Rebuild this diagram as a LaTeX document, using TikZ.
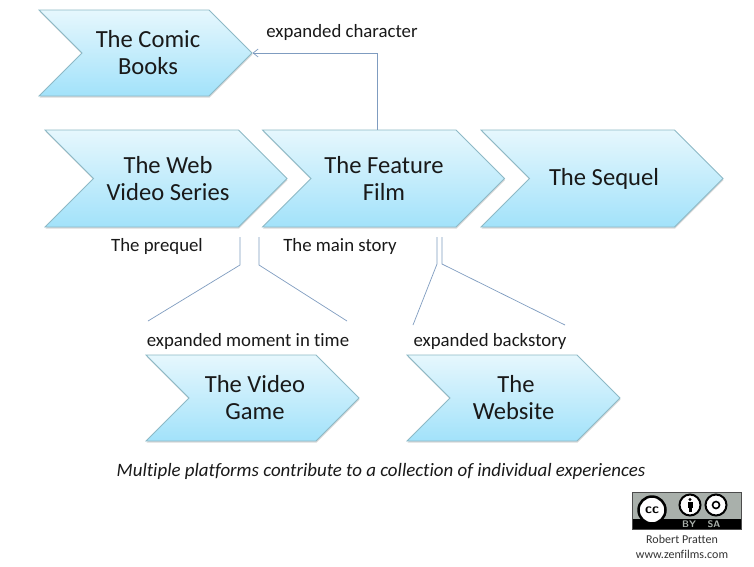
\documentclass[tikz,border=0pt]{standalone}
\usepackage{fontspec}
\setmainfont[Ligatures=NoCommon]{Carlito}
\usetikzlibrary{shapes.symbols,shadows,arrows.meta}
\definecolor{edgeblue}{HTML}{8DB9C6}
\definecolor{lineblue}{HTML}{7F9CC0}
\definecolor{topblue}{HTML}{E6F7FD}
\definecolor{botblue}{HTML}{A2E2FA}
\definecolor{ccgray}{HTML}{A9B0AB}
\tikzset{
  chev/.style={signal, signal to=east, signal from=west, signal pointer angle=90, draw=edgeblue, line width=0.8pt,
    top color=topblue, bottom color=botblue, align=center, inner sep=0pt, font=\fontsize{24.6}{27}\selectfont, text=black!90,
    drop shadow={shadow xshift=0.5pt, shadow yshift=-1.5pt, opacity=0.3}},
  bigchev/.style={chev, minimum width=242pt, minimum height=97pt},
  smallchev/.style={chev, minimum width=213pt, minimum height=86pt},
  lab/.style={font=\fontsize{18.8}{22}\selectfont, text=black!90},
  conn/.style={draw=lineblue, line width=0.7pt},
  cctxt/.style={font=\sffamily\bfseries\fontsize{9.5}{9.5}\selectfont, text=ccgray}
}
\begin{document}
\begin{tikzpicture}[x=1pt,y=-1pt]
\useasboundingbox (0,0) rectangle (754,566);
\fill[white] (0,0) rectangle (754,566);
% top row
\node[smallchev] (comic) at (145.5,53) {\hspace*{5pt}The Comic\\\hspace*{5pt}Books};
\node[bigchev] (web) at (166,178.5) {\hspace*{4pt}The Web\\\hspace*{4pt}Video Series};
\node[bigchev] (film) at (383.5,178.5) {\hspace*{1pt}The Feature\\\hspace*{1pt}Film};
\node[bigchev] (sequel) at (602,178.5) {\raisebox{-2pt}{\hspace*{4pt}The Sequel}};
% bottom row
\node[smallchev] (game) at (252.5,398) {\hspace*{5pt}The Video\\\hspace*{5pt}Game};
\node[smallchev] (site) at (513.5,398) {\hspace*{5pt}The\\Website};
% labels
\node[lab] (charlab) at (342,32) {expanded character};
\node[lab] (prequel) at (157,246) {The prequel};
\node[lab] (mainlab) at (340,246) {The main story};
\node[lab] (momentlab) at (248,341) {expanded moment in time};
\node[lab] (backlab) at (490,341) {expanded backstory};
\node[font=\itshape\fontsize{18.9}{22}\selectfont, text=black!90] (caption) at (381,471) {Multiple platforms contribute to a collection of individual experiences};
% connectors
\draw[conn,-{Straight Barb[length=5pt,width=8pt]}] ([xshift=-6.5pt]film.north) |- (comic.east);
\coordinate (gameleft) at (148,321);
\coordinate (gameright) at (347,321);
\coordinate (siteleft) at (413,325);
\coordinate (siteright) at (565,325);
\coordinate (kneea) at (240,265);
\coordinate (kneeb) at (259,265);
\coordinate (kneec) at (437,264);
\coordinate (kneed) at (442,264);
\draw[conn] (240,237) -- (kneea) -- (gameleft);
\draw[conn] (259,237) -- (kneeb) -- (gameright);
\draw[conn] (437,237) -- (kneec) -- (siteleft);
\draw[conn] (442,237) -- (kneed) -- (siteright);
% licence badge
\fill[ccgray] (632,492) rectangle (741,520);
\fill[black] (632,519) rectangle (741,529);
\draw[black!70,line width=0.5pt] (632,492) rectangle (741,529);
\node[circle, fill=white, draw=black, line width=2.5pt, minimum size=27pt, inner sep=0pt, font=\sffamily\bfseries\fontsize{14}{14}\selectfont] (ccmark) at (652,510) {cc};
\node[circle, fill=white, draw=black, line width=2pt, minimum size=21pt, inner sep=0pt] (bymark) at (690,505) {};
\node[circle, fill=white, draw=black, line width=2pt, minimum size=21pt, inner sep=0pt] (samark) at (716,505) {};
\fill[black] (690,499.5) circle (1.6pt);
\fill[black] (687.5,502) rectangle (692.5,508);
\fill[black] (688.5,508) rectangle (691.5,512);
\draw[black,line width=1.6pt] (716,505) circle (3.5pt);
\node[cctxt] (bytxt) at (689,524) {BY};
\node[cctxt] (satxt) at (714,524) {SA};
\node[font=\fontsize{12}{15}\selectfont, align=center, text=black!80] (credit) at (682,547) {Robert Pratten\\www.zenfilms.com};
\end{tikzpicture}
\end{document}
